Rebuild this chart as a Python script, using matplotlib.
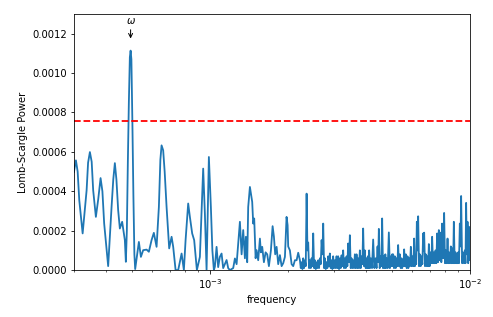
import numpy as np
import matplotlib
matplotlib.use('Agg')
import matplotlib.pyplot as plt

# frequency in units of 1e-3, power in units of 1e-4
# smooth low-frequency part up to ~2.2e-3
freq_low_e3 = [
    0.300, 0.3053, 0.310, 0.3145, 0.3240, 0.3356, 0.340, 0.3455, 0.351, 0.3557, 0.3643,
    0.372, 0.3798, 0.386, 0.3921, 0.4062, 0.4186, 0.425, 0.4310, 0.437, 0.4438, 0.4505,
    0.4598, 0.4709, 0.4751, 0.4793, 0.4836, 0.4879, 0.4922, 0.4955, 0.4990, 0.5034,
    0.5079, 0.5124, 0.5160, 0.5225, 0.5332, 0.5428, 0.5539, 0.5708, 0.5825, 0.5966,
    0.6088, 0.6237, 0.6365, 0.645, 0.6519, 0.6612, 0.670, 0.6815, 0.6974, 0.7124,
    0.7226, 0.7381, 0.7553, 0.7784, 0.7943, 0.8064, 0.8252, 0.8377, 0.8549, 0.8702,
    0.8913, 0.9153, 0.9424, 0.9567, 0.9712, 0.9912, 1.0089, 1.0224, 1.0360,
    1.0453, 1.0611, 1.0762, 1.0925, 1.1092, 1.1251, 1.1422, 1.1596, 1.1761, 1.1940,
    1.2121, 1.2295, 1.2482, 1.2671, 1.2852, 1.3047, 1.3245, 1.3434, 1.3638, 1.3759,
    1.3919, 1.4042, 1.4256, 1.4383, 1.4549, 1.4679, 1.4809, 1.4994, 1.5127, 1.5343,
    1.5577, 1.5715, 1.5897, 1.6138, 1.6383, 1.6617, 1.6869, 1.7171, 1.7431, 1.7633,
    1.7837, 1.8060, 1.8318, 1.8596, 1.8878, 1.9148, 1.9439, 1.9724, 1.9907, 2.0012,
    2.0318, 2.0626, 2.0921, 2.1238, 2.1561, 2.1869,
]
power_low_e4 = [
    4.98, 5.57, 5.0, 3.54, 1.86, 4.05, 5.45, 5.99, 5.5, 4.05, 2.70,
    3.6, 4.67, 4.0, 2.36, 0.20, 3.20, 4.6, 5.43, 4.6, 3.04, 2.11,
    2.45, 1.52, 0.42, 2.0, 5.5, 8.5, 10.8, 11.14, 10.7, 7.5,
    3.8, 0.8, 0.05, 0.59, 1.43, 0.67, 1.01, 1.04, 0.93, 1.52,
    1.89, 1.18, 3.2, 5.6, 6.33, 6.08, 5.0, 3.2, 1.1, 1.69,
    1.18, 0.0, 0.0, 0.84, 0.0, 1.52, 3.38, 2.7, 1.86, 1.52,
    0.0, 0.67, 5.15, 2.87, 0.0, 5.74, 3.2, 1.0, 0.0,
    0.17, 1.18, 0.15, 0.67, 0.84, 0.1, 0.3, 0.51, 0.1, 0.0,
    0.05, 0.1, 0.59, 0.3, 1.35, 2.45, 0.8, 2.03, 0.6, 1.69,
    0.4, 3.2, 4.22, 3.88, 3.46, 2.36, 2.62, 0.6, 1.01, 0.5,
    1.6, 0.9, 1.18, 0.4, 0.9, 0.8, 0.2, 1.0, 2.23, 1.7,
    0.8, 1.18, 0.3, 0.76, 0.2, 0.35, 0.67, 2.7, 2.28, 1.2,
    1.0, 0.3, 0.2, 0.5, 0.5, 0.88,
]
# dense high-frequency part, spikes alternating with dips to the floor
freq_high_e3 = [
    2.2200, 2.237, 2.2536, 2.270, 2.2858, 2.303, 2.3205, 2.338, 2.3557, 2.373,
    2.3893, 2.407, 2.4256, 2.444, 2.4624, 2.480, 2.4976, 2.517, 2.5354, 2.555,
    2.5739, 2.592, 2.6106, 2.630, 2.6502, 2.670, 2.6904, 2.710, 2.7289, 2.750,
    2.7703, 2.791, 2.8123, 2.832, 2.8510, 2.873, 2.8943, 2.916, 2.9382, 2.959,
    2.9800, 3.003, 3.0253, 3.048, 3.0712, 3.093, 3.1150, 3.139, 3.1623, 3.186,
    3.2103, 3.233, 3.2562, 3.281, 3.3056, 3.331, 3.3558, 3.380, 3.4037, 3.430,
    3.4553, 3.482, 3.5077, 3.533, 3.5578, 3.585, 3.6118, 3.639, 3.6666, 3.693,
    3.7189, 3.747, 3.7754, 3.804, 3.8327, 3.860, 3.8874, 3.917, 3.9465, 3.976,
    4.0063, 4.030, 4.0527, 4.076, 4.0996, 4.131, 4.1618, 4.205, 4.2475, 4.293,
    4.3388, 4.377, 4.4157, 4.441, 4.4668, 4.501, 4.5348, 4.567, 4.5995, 4.634,
    4.6694, 4.700, 4.7315, 4.757, 4.7823, 4.831, 4.8806, 4.924, 4.9678, 4.997,
    5.0254, 5.048, 5.0699, 5.108, 5.1468, 5.186, 5.2249, 5.262, 5.2994, 5.340,
    5.3798, 5.421, 5.4616, 5.493, 5.5248, 5.557, 5.5888, 5.631, 5.6737, 5.717,
    5.7598, 5.801, 5.8421, 5.886, 5.9308, 5.976, 6.0209, 6.064, 6.1069, 6.145,
    6.1830, 6.219, 6.2546, 6.291, 6.3270, 6.375, 6.4231, 6.472, 6.5205, 6.567,
    6.6136, 6.643, 6.6725, 6.723, 6.7738, 6.825, 6.8766, 6.916, 6.9562, 7.009,
    7.0618, 7.112, 7.1614, 7.216, 7.2702, 7.325, 7.3807, 7.433, 7.4858, 7.543,
    7.5996, 7.657, 7.7148, 7.770, 7.8248, 7.895, 7.9646, 8.025, 8.0855, 8.147,
    8.2081, 8.267, 8.3251, 8.388, 8.4515, 8.516, 8.5796, 8.629, 8.6791, 8.745,
    8.8105, 8.862, 8.9125, 8.964, 9.0157, 9.084, 9.1527, 9.206, 9.2587, 9.341,
    9.4241, 9.496, 9.5671, 9.623, 9.6780, 9.738, 9.7983, 9.855, 9.9118, 9.956,
    10.0,
]
power_high_e4 = [
    0.5, 0.1, 0.4, 0.05, 0.6, 0.1, 0.5, 0.2, 3.88, 1.0,
    1.4, 0.1, 0.5, 0.1, 0.6, 0.2, 1.86, 0.1, 0.5, 0.05,
    0.4, 0.1, 0.5, 0.1, 0.6, 0.3, 1.52, 0.8, 2.36, 0.1,
    0.6, 0.05, 0.4, 0.1, 0.7, 0.2, 0.84, 0.1, 0.5, 0.05,
    0.7, 0.1, 0.5, 0.1, 0.7, 0.1, 0.7, 0.05, 0.6, 0.1,
    0.75, 0.2, 1.0, 0.1, 0.6, 0.1, 0.7, 0.2, 1.35, 0.4,
    1.77, 0.1, 0.6, 0.1, 0.5, 0.1, 0.8, 0.1, 0.8, 0.1,
    0.6, 0.1, 1.0, 0.1, 0.7, 0.3, 2.11, 0.2, 1.0, 0.1,
    0.6, 0.1, 0.7, 0.1, 1.0, 0.1, 0.6, 0.1, 1.55, 0.1,
    0.6, 0.1, 1.2, 0.4, 2.09, 0.1, 0.7, 0.2, 2.62, 0.1,
    0.7, 0.1, 0.8, 0.1, 0.6, 0.1, 1.91, 0.1, 0.7, 0.2,
    0.8, 0.2, 0.8, 0.1, 0.7, 0.1, 0.6, 0.2, 1.27, 0.2,
    0.8, 0.1, 0.6, 0.1, 0.5, 0.2, 1.05, 0.2, 0.8, 0.1,
    0.7, 0.1, 0.6, 0.2, 1.18, 0.2, 0.7, 0.2, 1.6, 0.2,
    0.7, 0.3, 2.45, 1.0, 2.73, 0.2, 0.8, 0.2, 0.7, 0.3,
    1.86, 1.0, 1.9, 0.2, 0.8, 0.2, 0.7, 0.2, 1.32, 0.2,
    0.9, 0.35, 1.69, 0.35, 0.9, 0.35, 1.0, 0.35, 1.86, 0.4,
    2.03, 0.5, 1.9, 0.4, 2.36, 0.6, 2.9, 0.35, 1.0, 0.35,
    1.6, 0.35, 0.9, 0.35, 1.2, 0.35, 1.1, 0.35, 2.45, 0.35,
    0.9, 0.35, 0.8, 0.35, 0.9, 0.35, 2.36, 1.2, 3.76, 0.35,
    0.9, 0.35, 1.0, 0.35, 3.41, 0.8, 2.45, 0.35, 2.2, 0.5,
    1.5,
]
threshold = 0.000756
omega_freq = 0.4955e-3

freq = np.array(freq_low_e3 + freq_high_e3) * 1e-3
power = np.array(power_low_e4 + power_high_e4) * 1e-4

fig, ax = plt.subplots(figsize=(493 / 72, 317 / 72), dpi=72)
fig.subplots_adjust(left=0.150, right=0.953, top=0.956, bottom=0.148)
ax.plot(freq, power, linewidth=1.8)
ax.axhline(threshold, color='r', linestyle='--', linewidth=1.8)
ax.annotate(r'$\omega$', xy=(omega_freq, 0.001165), xytext=(omega_freq, 0.00124),
            ha='center', va='bottom', arrowprops=dict(arrowstyle='->', color='black'))
ax.set_xscale('log')
ax.set_xlim(3e-4, 1e-2)
ax.set_ylim(0, 0.0013)
ax.set_xlabel('frequency')
ax.set_ylabel('Lomb-Scargle Power')
fig.savefig('out.png', dpi=72)
